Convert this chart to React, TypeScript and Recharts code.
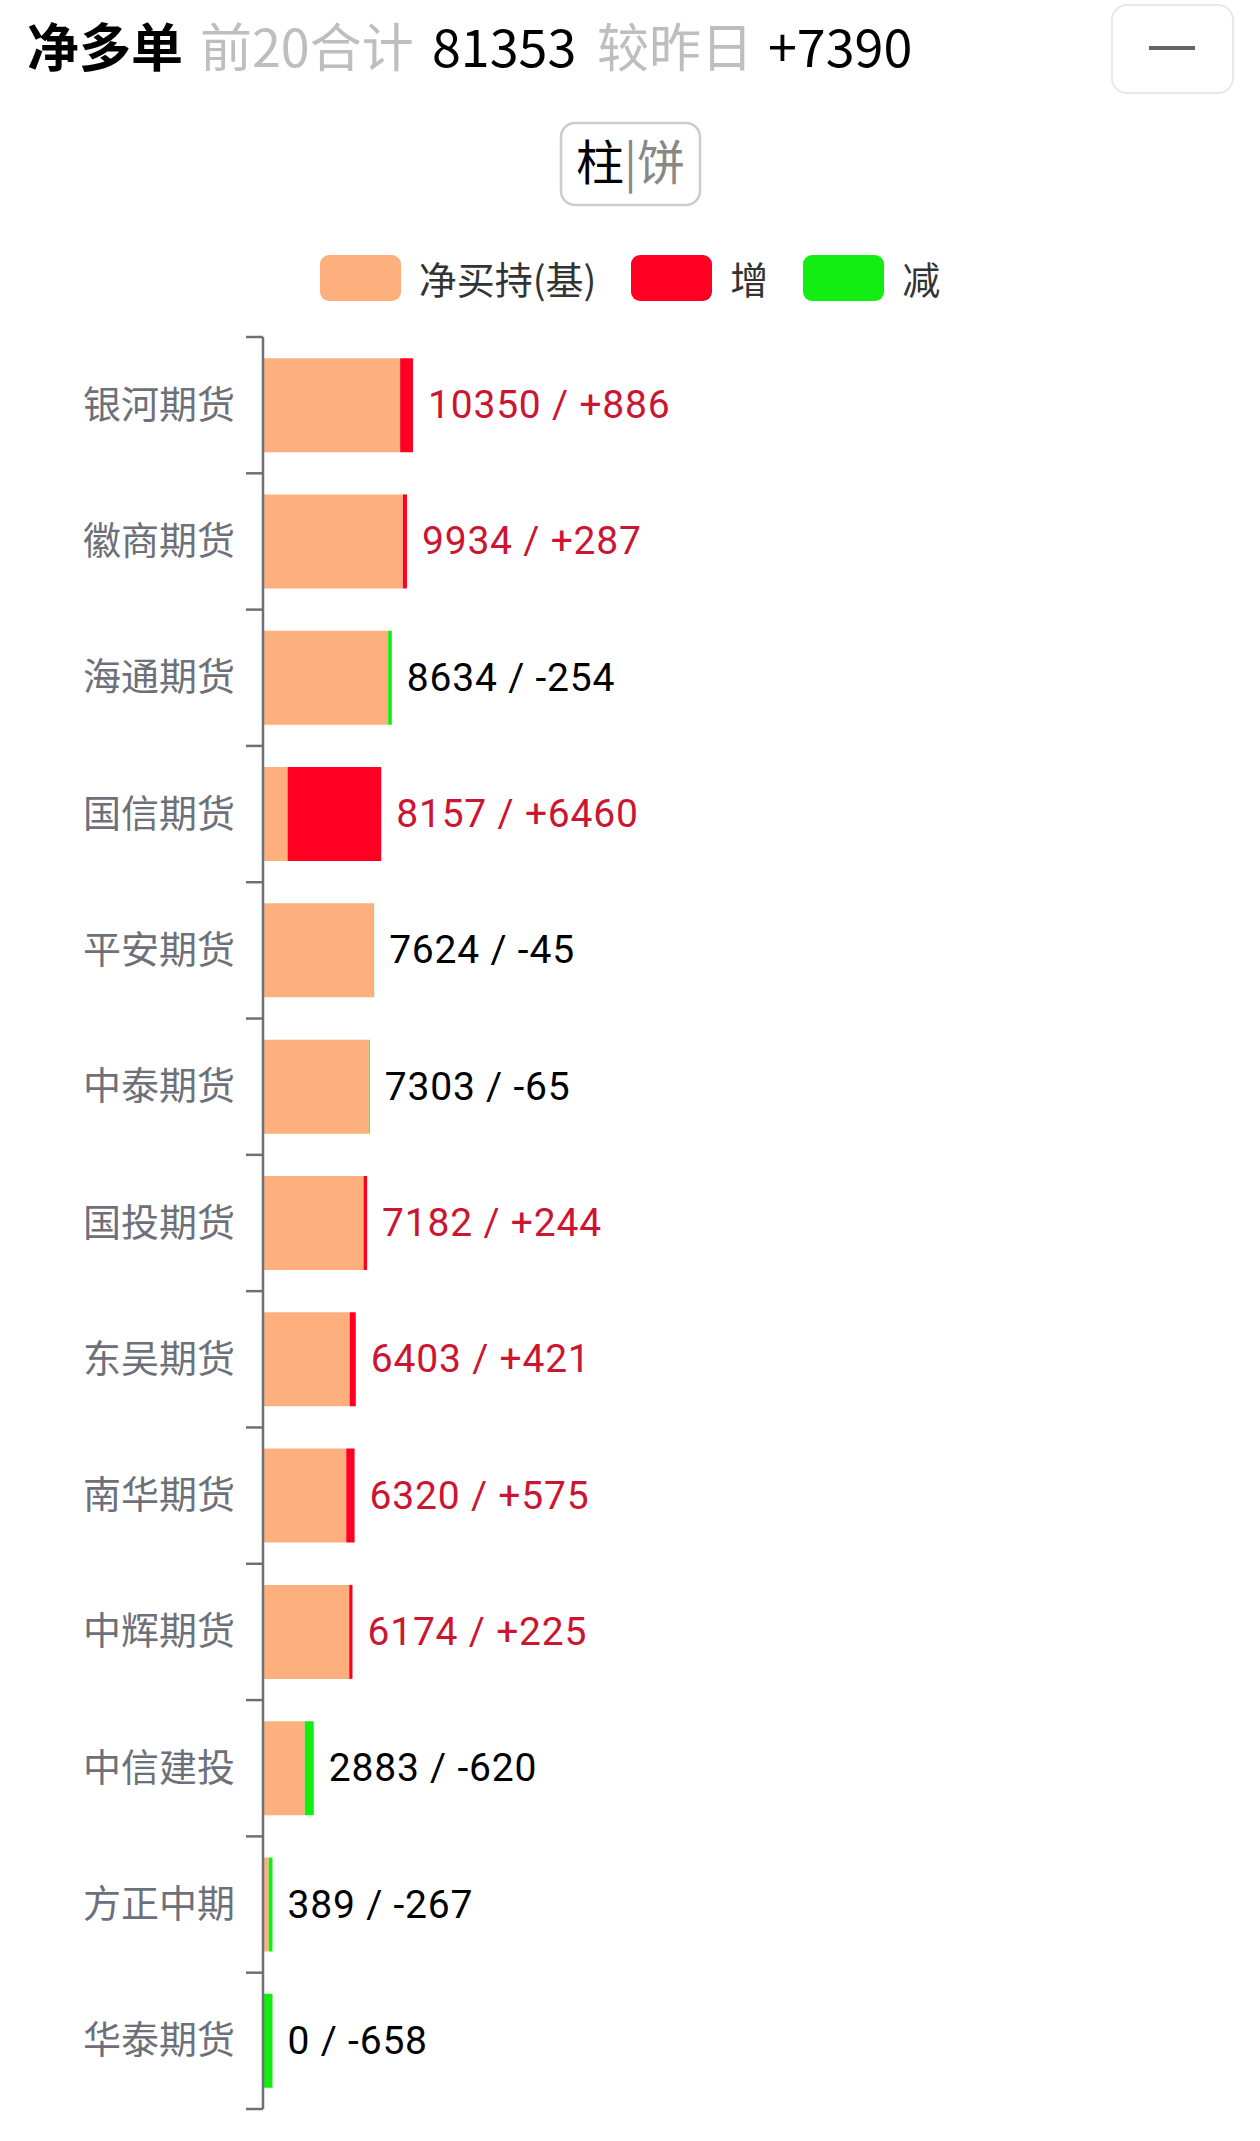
import React from 'react';
import { BarChart, Bar, XAxis, YAxis, LabelList } from 'recharts';

// ---------- data ----------
const categories = [
  '银河期货', '徽商期货', '海通期货', '国信期货', '平安期货', '中泰期货', '国投期货',
  '东吴期货', '南华期货', '中辉期货', '中信建投', '方正中期', '华泰期货',
];
const netValues = [10350, 9934, 8634, 8157, 7624, 7303, 7182, 6403, 6320, 6174, 2883, 389, 0];
const changes = [886, 287, -254, 6460, -45, -65, 244, 421, 575, 225, -620, -267, -658];

const headerTotal = 81353;
const headerChange = 7390;

const SERIES = [
  { key: 'base', name: '净买持(基)', color: '#FDB07D' },
  { key: 'inc', name: '增', color: '#FF0022' },
  { key: 'dec', name: '减', color: '#12EE12' },
];

const data = categories.map((name, i) => {
  const net = netValues[i];
  const chg = changes[i];
  const base = chg > 0 ? net - chg : net;
  const inc = chg > 0 ? chg : 0;
  const dec = chg < 0 ? -chg : 0;
  return {
    name,
    net,
    chg,
    base,
    inc,
    dec,
    total: base + inc + dec,
    label: `${net} / ${chg > 0 ? '+' : ''}${chg}`,
  };
});

// ---------- layout constants ----------
const W = 1260;
const H = 2141;
const MARGIN = { top: 337, right: 55, bottom: 32, left: 0 };
const Y_AXIS_W = 263;
const TICK_SIZE = 17;
const TICK_MARGIN = 11;
const BAND = (H - MARGIN.top - MARGIN.bottom) / categories.length;
const AXIS_COLOR = '#6E7079';
const CJK = '"Noto Sans CJK SC", "Noto Sans", sans-serif';

const CategoryTick = (props: any) => {
  const { x, y, payload, index } = props;
  const lx1 = x + TICK_MARGIN;
  const lx2 = x + TICK_MARGIN + TICK_SIZE;
  const last = index === categories.length - 1;
  return (
    <g>
      <line x1={lx1} x2={lx2} y1={y - BAND / 2} y2={y - BAND / 2} stroke={AXIS_COLOR} strokeWidth={2.5} />
      {last && (
        <line x1={lx1} x2={lx2} y1={y + BAND / 2} y2={y + BAND / 2} stroke={AXIS_COLOR} strokeWidth={2.5} />
      )}
      <text
        x={x}
        y={y}
        dy={-4}
        textAnchor="end"
        dominantBaseline="central"
        fontSize={38}
        fontFamily={CJK}
        fill={AXIS_COLOR}
      >
        {payload.value}
      </text>
    </g>
  );
};

const ValueLabel = (props: any) => {
  const vb = props.viewBox && props.viewBox.width !== undefined ? props.viewBox : props;
  const x = Number(vb.x) + Number(vb.width) + 15;
  const y = Number(vb.y) + Number(vb.height) / 2;
  const txt = String(props.value ?? '');
  const pos = txt.indexOf('+') >= 0;
  return (
    <text
      x={x}
      y={y}
      dominantBaseline="central"
      fontSize={39}
      letterSpacing={0.8}
      fontFamily="Roboto, sans-serif"
      fill={pos ? '#CC1530' : '#000000'}
    >
      {txt}
    </text>
  );
};

export default function App() {
  return (
    <div
      style={{
        position: 'absolute',
        left: 0,
        top: 0,
        width: W,
        height: H,
        background: '#ffffff',
        overflow: 'hidden',
        fontFamily: CJK,
      }}
    >
      <div style={{ position: 'absolute', left: 0, top: 0 }}>
        <BarChart
          width={W}
          height={H}
          data={data}
          layout="vertical"
          margin={MARGIN}
          barCategoryGap="15.5%"
        >
          <XAxis type="number" domain={[0, 65000]} hide />
          <YAxis
            type="category"
            dataKey="name"
            width={Y_AXIS_W}
            interval={0}
            tickSize={TICK_SIZE}
            tickMargin={TICK_MARGIN}
            tickLine={false}
            axisLine={{ stroke: AXIS_COLOR, strokeWidth: 2.5 }}
            tick={<CategoryTick />}
          />
          <YAxis yAxisId="labels" type="category" dataKey="name" hide />
          {SERIES.map((s) => (
            <Bar
              key={s.key}
              dataKey={s.key}
              name={s.name}
              stackId="pos"
              fill={s.color}
              isAnimationActive={false}
            />
          ))}
          <Bar
            yAxisId="labels"
            dataKey="total"
            fill="transparent"
            legendType="none"
            isAnimationActive={false}
          >
            <LabelList dataKey="label" content={<ValueLabel />} />
          </Bar>
        </BarChart>
      </div>

      {/* header */}
      <svg width={W} height={240} style={{ position: 'absolute', left: 0, top: 0 }}>
        <text x={27} y={67} fontSize={52} fontWeight="bold" fontFamily={CJK} fill="#000">净多单</text>
        <text x={200} y={67} fontSize={52} fontFamily={CJK} fill="#BEBEBE">前20合计</text>
        <text x={432} y={67} fontSize={52} fontFamily={CJK} fill="#000">{headerTotal}</text>
        <text x={597} y={67} fontSize={52} fontFamily={CJK} fill="#BEBEBE">较昨日</text>
        <text x={768} y={67} fontSize={52} fontFamily={CJK} fill="#000">
          {(headerChange > 0 ? '+' : '') + headerChange}
        </text>

        <rect x={1112} y={5} width={121} height={88} rx={15} fill="#fff" stroke="#E8E8E8" strokeWidth={2} />
        <line x1={1149} x2={1195} y1={48} y2={48} stroke="#666" strokeWidth={4} />

        <rect x={561} y={123} width={139} height={82} rx={14} fill="#fff" stroke="#CCCCCC" strokeWidth={2.5} />
        <text x={630.5} y={180} fontSize={48} fontFamily={CJK} textAnchor="middle">
          <tspan fill="#000">柱</tspan>
          <tspan fill="#888">|饼</tspan>
        </text>
      </svg>

      {/* legend */}
      <div
        style={{
          position: 'absolute',
          left: 0,
          top: 255,
          width: W,
          display: 'flex',
          justifyContent: 'center',
          gap: 35,
        }}
      >
        {SERIES.map((s) => (
          <div key={s.key} style={{ display: 'flex', alignItems: 'center' }}>
            <div style={{ width: 81, height: 46, borderRadius: 9, background: s.color, marginRight: 18 }} />
            <span style={{ fontSize: 38, lineHeight: '46px', color: '#333', fontFamily: CJK }}>{s.name}</span>
          </div>
        ))}
      </div>
    </div>
  );
}
